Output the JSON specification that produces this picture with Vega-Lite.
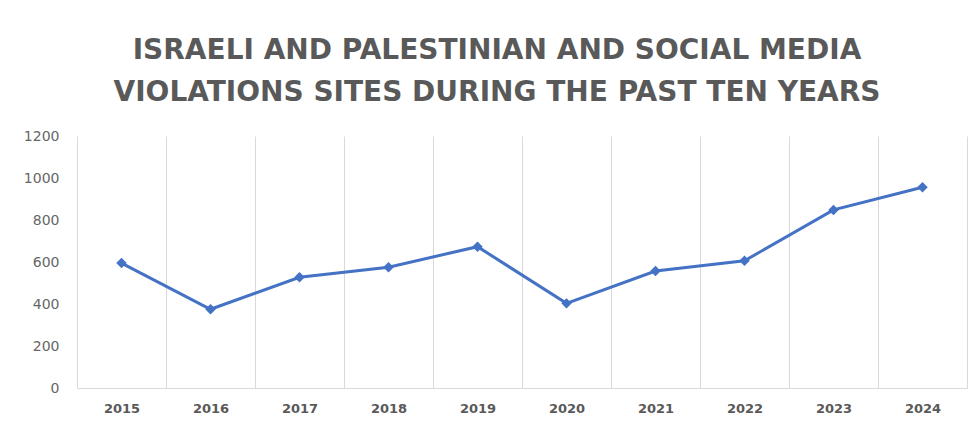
{
  "$schema": "https://vega.github.io/schema/vega-lite/v6.json",
  "autosize": {"type": "none"},
  "width": 890,
  "height": 252,
  "padding": {"left": 77, "top": 136, "right": 13, "bottom": 39},
  "background": "white",
  "title": {
    "text": ["ISRAELI AND PALESTINIAN AND SOCIAL MEDIA", "VIOLATIONS SITES DURING THE PAST TEN YEARS"],
    "font": "DejaVu Sans",
    "fontWeight": "bold",
    "fontSize": 28,
    "color": "#595959",
    "lineHeight": 42,
    "anchor": "middle",
    "dx": -25,
    "offset": 22
  },
  "data": {
    "values": [
      {"year": "2015", "value": 595},
      {"year": "2016", "value": 375},
      {"year": "2017", "value": 527},
      {"year": "2018", "value": 575},
      {"year": "2019", "value": 673},
      {"year": "2020", "value": 403},
      {"year": "2021", "value": 557},
      {"year": "2022", "value": 606},
      {"year": "2023", "value": 848},
      {"year": "2024", "value": 956}
    ]
  },
  "encoding": {
    "x": {
      "field": "year",
      "type": "ordinal",
      "bandPosition": 0.5,
      "scale": {"type": "band", "paddingInner": 0, "paddingOuter": 0},
      "axis": {
        "title": null,
        "labelAngle": 0,
        "tickBand": "extent",
        "grid": true,
        "gridColor": "#d9d9d9",
        "gridWidth": 1,
        "ticks": false,
        "domainColor": "#d9d9d9",
        "labelFont": "DejaVu Sans",
        "labelFontWeight": "bold",
        "labelFontSize": 13,
        "labelColor": "#595959",
        "labelPadding": 14
      }
    },
    "y": {
      "field": "value",
      "type": "quantitative",
      "scale": {"domain": [0, 1200]},
      "axis": {
        "title": null,
        "values": [0, 200, 400, 600, 800, 1000, 1200],
        "format": "d",
        "grid": false,
        "domain": false,
        "ticks": false,
        "labelFont": "DejaVu Sans",
        "labelFontSize": 14,
        "labelColor": "#666666",
        "labelPadding": 18
      }
    }
  },
  "mark": {
    "type": "line",
    "color": "#4472C4",
    "strokeWidth": 3,
    "point": {"filled": true, "shape": "diamond", "size": 110, "color": "#4472C4"}
  },
  "config": {"view": {"stroke": null}}
}
